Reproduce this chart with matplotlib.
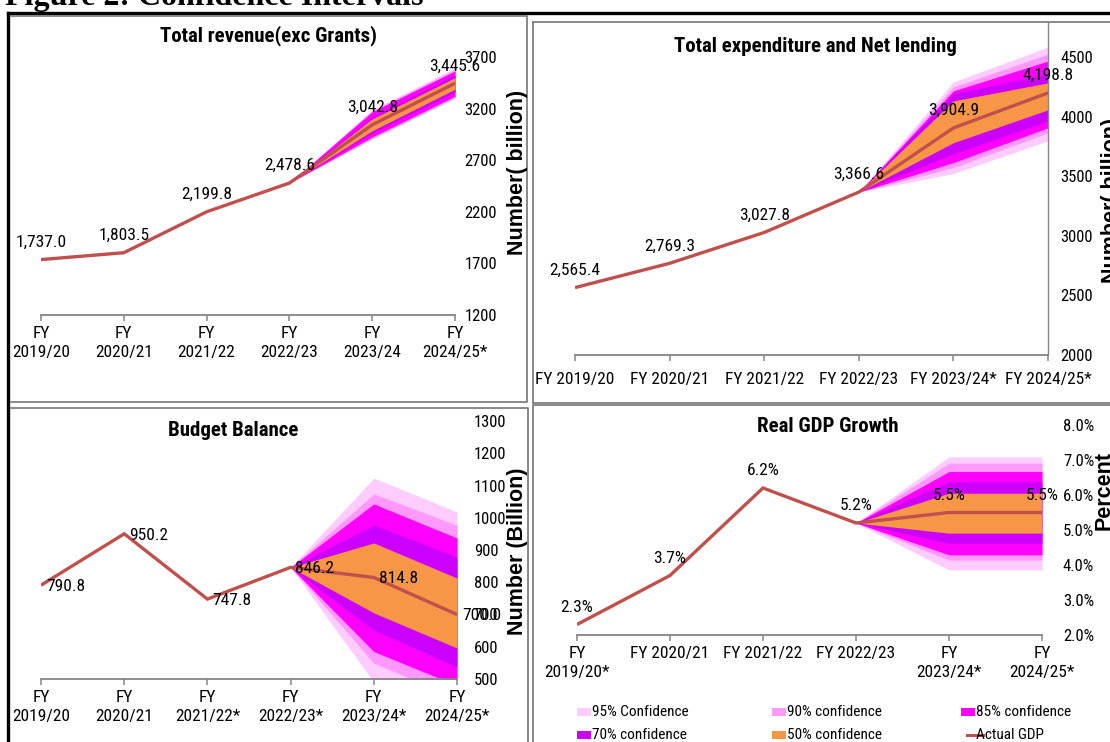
import matplotlib
matplotlib.use("Agg")
import matplotlib.pyplot as plt
from matplotlib import font_manager
from matplotlib.patches import Rectangle
from matplotlib.lines import Line2D

# ---------------------------------------------------------------- data
rev_years = ["FY\n2019/20", "FY\n2020/21", "FY\n2021/22", "FY\n2022/23", "FY\n2023/24", "FY\n2024/25*"]
rev_actual = [1737.0, 1803.5, 2199.8, 2478.6, 3042.8, 3445.6]
rev_lower = {95: [2478.6, 2905, 3300], 90: [2478.6, 2915, 3310], 85: [2478.6, 2925, 3320],
             70: [2478.6, 2965, 3360], 50: [2478.6, 2985, 3388]}
rev_upper = {95: [2478.6, 3190, 3595], 90: [2478.6, 3180, 3580], 85: [2478.6, 3170, 3565],
             70: [2478.6, 3120, 3525], 50: [2478.6, 3100, 3500]}
rev_ticks = [1200, 1700, 2200, 2700, 3200, 3700]

exp_years = ["FY 2019/20", "FY 2020/21", "FY 2021/22", "FY 2022/23", "FY 2023/24*", "FY 2024/25*"]
exp_actual = [2565.4, 2769.3, 3027.8, 3366.6, 3904.9, 4198.8]
exp_lower = {95: [3366.6, 3522, 3797], 90: [3366.6, 3572, 3864], 85: [3366.6, 3614, 3906],
             70: [3366.6, 3689, 3965], 50: [3366.6, 3781, 4057]}
exp_upper = {95: [3366.6, 4291, 4584], 90: [3366.6, 4249, 4525], 85: [3366.6, 4216, 4466],
             70: [3366.6, 4191, 4358], 50: [3366.6, 4132, 4283]}
exp_ticks = [2000, 2500, 3000, 3500, 4000, 4500]

bal_years = ["FY\n2019/20", "FY\n2020/21", "FY\n2021/22*", "FY\n2022/23*", "FY\n2023/24*", "FY\n2024/25*"]
bal_actual = [790.8, 950.2, 747.8, 846.2, 814.8, 700.0]
bal_lower = {95: [846.2, 490, 400], 90: [846.2, 549, 440], 85: [846.2, 585, 480],
             70: [846.2, 652, 537], 50: [846.2, 705, 596]}
bal_upper = {95: [846.2, 1123, 1018], 90: [846.2, 1074, 977], 85: [846.2, 1043, 937],
             70: [846.2, 977, 878], 50: [846.2, 922, 813]}
bal_ticks = [500, 600, 700, 800, 900, 1000, 1100, 1200, 1300]

gdp_years = ["FY\n2019/20*", "FY 2020/21", "FY 2021/22", "FY 2022/23", "FY\n2023/24*", "FY\n2024/25*"]
gdp_actual = [2.3, 3.7, 6.2, 5.2, 5.5, 5.5]
gdp_lower = {95: [5.2, 3.86, 3.86], 90: [5.2, 4.14, 4.14], 85: [5.2, 4.29, 4.29],
             70: [5.2, 4.62, 4.62], 50: [5.2, 4.91, 4.91]}
gdp_upper = {95: [5.2, 7.09, 7.09], 90: [5.2, 6.91, 6.91], 85: [5.2, 6.67, 6.67],
             70: [5.2, 6.38, 6.38], 50: [5.2, 6.05, 6.05]}
gdp_ticks = [2.0, 3.0, 4.0, 5.0, 6.0, 7.0, 8.0]

legend_labels = ["95% Confidence", "90% confidence", "85% confidence",
                 "70% confidence", "50% confidence", "Actual GDP"]

# ---------------------------------------------------------------- style
BAND_COLORS = {95: "#FFCCFF", 90: "#FF99FF", 85: "#FF00FF", 70: "#CC00FF", 50: "#F79646"}
LINE = "#C0504D"
AXIS_GRAY = "#868686"

# pick a narrow sans face when one is installed
_entries = font_manager.fontManager.ttflist
_names = {f.name for f in _entries}
_condensed = {f.name for f in _entries
              if str(f.stretch) in ("condensed", "semi-condensed", "extra-condensed")}
NARROW, STRETCH, SCALE = "Liberation Sans", "normal", 0.86
for fam in ("Liberation Sans Narrow", "Arial Narrow", "Roboto Condensed",
            "Open Sans Condensed", "Noto Sans Condensed", "DejaVu Sans Condensed"):
    if fam in _names:
        NARROW, STRETCH, SCALE = fam, "normal", 1.0
        break
else:
    for fam in ("Noto Sans", "DejaVu Sans", "Open Sans", "Roboto"):
        if fam in _condensed:
            NARROW, STRETCH, SCALE = fam, "condensed", 0.95
            break

SANS = "Liberation Sans"
SERIF = "Liberation Serif"


def nfont(size, weight="normal"):
    return dict(fontfamily=NARROW, fontstretch=STRETCH, fontsize=size * SCALE, fontweight=weight)


W, H = 1110, 742
fig = plt.figure(figsize=(W / 100, H / 100), dpi=100)
fig.patch.set_facecolor("white")


def fx(px):
    return px / W


def fy(py):
    return 1 - py / H


def add_ax(left, right, bottom, top):
    return fig.add_axes([fx(left), fy(bottom), fx(right - left), (bottom - top) / H])


def frame_line(xs, ys, color, lw):
    fig.add_artist(Line2D([fx(x) for x in xs], [fy(y) for y in ys],
                          transform=fig.transFigure, color=color, lw=lw))


def setup(ax, labels, ylim, yticks, yfmt, ypad, xpad=4, right_spine=False):
    ax.set_xlim(0, 5)
    ax.set_ylim(*ylim)
    ax.set_xticks(range(6))
    ax.set_xticklabels(labels, linespacing=1.35, **nfont(12.5))
    ax.yaxis.tick_right()
    ax.set_yticks(yticks)
    ax.set_yticklabels([yfmt.format(t) for t in yticks], **nfont(12))
    for s in ("left", "top", "right"):
        ax.spines[s].set_visible(False)
    if right_spine:
        ax.spines["right"].set_visible(True)
        ax.spines["right"].set_color(AXIS_GRAY)
        ax.spines["right"].set_linewidth(1.0)
    ax.spines["bottom"].set_color(AXIS_GRAY)
    ax.spines["bottom"].set_linewidth(1.3)
    ax.tick_params(axis="x", direction="out", length=4, width=1.1, color=AXIS_GRAY, pad=xpad)
    ax.tick_params(axis="y", length=0, pad=ypad)
    ax.patch.set_alpha(0)


def draw_series(ax, actual, lower, upper):
    xs = [3, 4, 5]
    for lvl in (95, 90, 85, 70, 50):
        ax.fill_between(xs, lower[lvl], upper[lvl], color=BAND_COLORS[lvl], lw=0, zorder=1)
    ax.plot(range(len(actual)), actual, color=LINE, lw=2.4, zorder=3,
            solid_joinstyle="miter", solid_capstyle="butt")


def label_above(ax, actual, fmt, dy=12.5):
    for i, v in enumerate(actual):
        ax.annotate(fmt.format(v), (i, v), xytext=(0, dy), textcoords="offset points",
                    ha="center", va="center", zorder=5, annotation_clip=False, **nfont(12.5))


def label_right(ax, actual, fmt):
    for i, v in enumerate(actual):
        ax.annotate(fmt.format(v), (i, v), xytext=(3.5, -1), textcoords="offset points",
                    ha="left", va="center", zorder=5, annotation_clip=False, **nfont(12.5))


# ---------------------------------------------------------------- frames
frame_line([8, 1110], [13, 13], "black", 2.4)
frame_line([8, 8], [13, 742], "black", 2.4)
for xs, ys in [([11, 527, 527, 11], [15.5, 15.5, 402, 402]),
               ([533, 1110], [21.5, 21.5]), ([533, 533], [21.5, 403]), ([533, 1110], [403, 403]),
               ([11, 528, 528], [407.5, 407.5, 742]),
               ([533, 533, 1110], [742, 405.5, 405.5])]:
    frame_line(xs, ys, "#7F7F7F", 1.3)

fig.text(fx(5), fy(5), "Figure 2: Confidence Intervals", fontfamily=SERIF, fontweight="bold",
         fontsize=23, ha="left", va="baseline")

# ---------------------------------------------------------------- total revenue
ax1 = add_ax(41, 455, 315, 57)
setup(ax1, rev_years, (1200, 3700), rev_ticks, "{:.0f}", ypad=7)
draw_series(ax1, rev_actual, rev_lower, rev_upper)
label_above(ax1, rev_actual, "{:,.1f}")
fig.text(fx(268), fy(36), "Total revenue(exc Grants)", ha="center", va="center",
         **nfont(15, "bold"))
fig.text(fx(517), fy(172), "Number( billion)", fontfamily=SANS, fontweight="bold",
         fontsize=15.5, rotation=90, ha="center", va="center")

# ---------------------------------------------------------------- total expenditure
exp_top = 4500 + (57 - 22) * (2500 / (355 - 57))
ax2 = add_ax(575, 1048, 355, 22)
setup(ax2, exp_years, (2000, exp_top), exp_ticks, "{:.0f}", ypad=9, xpad=8, right_spine=True)
draw_series(ax2, exp_actual, exp_lower, exp_upper)
label_above(ax2, exp_actual, "{:,.1f}")
fig.text(fx(815), fy(46), "Total expenditure and Net lending", ha="center", va="center",
         **nfont(15, "bold"))
fig.text(fx(1112), fy(200), "Number( billion)", fontfamily=SANS, fontweight="bold",
         fontsize=15.5, rotation=90, ha="center", va="center")

# ---------------------------------------------------------------- budget balance
ax3 = add_ax(41, 457, 679, 421)
setup(ax3, bal_years, (500, 1300), bal_ticks, "{:.0f}", ypad=12)
draw_series(ax3, bal_actual, bal_lower, bal_upper)
label_right(ax3, bal_actual, "{:.1f}")
fig.text(fx(233), fy(430), "Budget Balance", ha="center", va="center", **nfont(15, "bold"))
fig.text(fx(517), fy(551), "Number (Billion)", fontfamily=SANS, fontweight="bold",
         fontsize=15.5, rotation=90, ha="center", va="center")

# ---------------------------------------------------------------- real GDP growth
ax4 = add_ax(577, 1042, 635, 425)
setup(ax4, gdp_years, (2.0, 8.0), gdp_ticks, "{:.1f}%", ypad=15)
draw_series(ax4, gdp_actual, gdp_lower, gdp_upper)
label_above(ax4, gdp_actual, "{:.1f}%")
fig.text(fx(828), fy(427), "Real GDP Growth", ha="center", va="center", **nfont(15, "bold"))
fig.text(fx(1104), fy(490), "Percent", fontfamily=SANS, fontweight="bold",
         fontsize=15.5, rotation=90, ha="center", va="center")

# ---------------------------------------------------------------- legend
legend_keys = [95, 90, 85, 70, 50, None]
col_x = [577, 772, 961]
row_y = [712, 735]
for k, (key, text) in enumerate(zip(legend_keys, legend_labels)):
    x0 = col_x[k % 3]
    y0 = row_y[k // 3]
    if key is None:
        frame_line([x0 + 6, x0 + 22], [y0, y0], LINE, 2.2)
    else:
        fig.add_artist(Rectangle((fx(x0), fy(y0 + 4)), 14 / W, 8 / H,
                                 transform=fig.transFigure, color=BAND_COLORS[key], lw=0))
    fig.text(fx(x0 + 15), fy(y0), text, ha="left", va="center", **nfont(11))

fig.savefig("out.png", dpi=100, facecolor="white")
